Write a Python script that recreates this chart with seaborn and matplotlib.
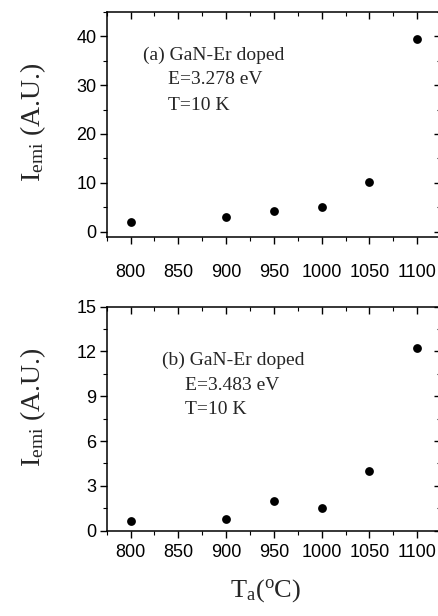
import matplotlib
matplotlib.use("Agg")
import matplotlib.pyplot as plt
import seaborn as sns
import numpy as np
import pandas as pd
from matplotlib.ticker import MultipleLocator

# Data
temps = [800, 900, 950, 1000, 1050, 1100]
iemi_a = [2.1, 3.0, 4.3, 5.1, 10.1, 39.5]
iemi_b = [0.68, 0.78, 2.0, 1.5, 4.0, 12.25]
xticks = [800, 850, 900, 950, 1000, 1050, 1100]
yticks_a = [0, 10, 20, 30, 40]
yticks_b = [0, 3, 6, 9, 12, 15]
ann_a = ["(a) GaN-Er doped", "E=3.278 eV", "T=10 K"]
ann_b = ["(b) GaN-Er doped", "E=3.483 eV", "T=10 K"]

sns.set_theme(style="white")
plt.rcParams['font.family'] = ['Liberation Sans', 'DejaVu Sans']
plt.rcParams['mathtext.fontset'] = 'custom'
plt.rcParams['mathtext.rm'] = 'Liberation Serif'

W, H = 439, 616
fig = plt.figure(figsize=(W / 100, H / 100), dpi=100)

def px_axes(left, top, right, bottom):
    return fig.add_axes([left / W, 1 - bottom / H, (right - left) / W, (bottom - top) / H])

ax1 = px_axes(106.7, 11.7, 441.1, 236.7)
ax2 = px_axes(106.7, 306.5, 441.1, 530.7)

df_a = pd.DataFrame({"T": temps, "I": iemi_a})
df_b = pd.DataFrame({"T": temps, "I": iemi_b})

for ax, df, yt, ylim, ymin, ann, xpad, ann_xy in [
    (ax1, df_a, yticks_a, (-1, 45), 5, ann_a, 14.5, (143, 55, 168)),
    (ax2, df_b, yticks_b, (0, 15), 1.5, ann_b, 4.5, (162, 360, 185)),
]:
    sns.scatterplot(data=df, x="T", y="I", ax=ax, color="black", s=40,
                    edgecolor="black", linewidth=0, zorder=3)
    ax.set_xlim(775, 1125)
    ax.set_ylim(*ylim)
    ax.set_xticks(xticks)
    ax.set_yticks(yt)
    ax.xaxis.set_minor_locator(MultipleLocator(25))
    ax.yaxis.set_minor_locator(MultipleLocator(ymin))
    ax.set_xlabel("")
    ax.set_ylabel("")
    for s in ax.spines.values():
        s.set_visible(True)
        s.set_color("black")
        s.set_linewidth(1.1)
    ax.tick_params(axis="x", which="both", bottom=True, top=True, direction="out",
                   color="black", labelsize=13, labelcolor="black")
    ax.tick_params(axis="x", which="major", length=5, width=1.0, pad=xpad)
    ax.tick_params(axis="x", which="minor", length=3, width=0.8)
    ax.tick_params(axis="y", which="both", left=True, right=True, direction="out",
                   color="black", labelsize=13, labelcolor="black", pad=2.5)
    ax.tick_params(axis="y", which="major", length=5, width=1.0)
    ax.tick_params(axis="y", which="minor", length=3, width=0.8)
    # top and right ticks inward
    for t in ax.xaxis.get_major_ticks() + ax.xaxis.get_minor_ticks():
        t.tick2line.set_marker(3)
    for t in ax.yaxis.get_major_ticks() + ax.yaxis.get_minor_ticks():
        t.tick2line.set_marker(0)
    ax.set_facecolor("white")
    x0, y0, x1 = ann_xy
    fs = 14
    ax.annotate(ann[0], xy=(x0 / W, 1 - y0 / H), xycoords="figure fraction",
                ha="left", va="center", fontsize=fs, family="Liberation Serif")
    ax.annotate(ann[1], xy=(x1 / W, 1 - (y0 + 25) / H), xycoords="figure fraction",
                ha="left", va="center", fontsize=fs, family="Liberation Serif")
    ax.annotate(ann[2], xy=(x1 / W, 1 - (y0 + 50) / H), xycoords="figure fraction",
                ha="left", va="center", fontsize=fs, family="Liberation Serif")

ylab = r"$\mathregular{I_{emi}}$ (A.U.)"
fig.text(33 / W, 1 - 122 / H, ylab, rotation=90, ha="center", va="center",
         fontsize=20, family="Liberation Serif")
fig.text(33 / W, 1 - 407 / H, ylab, rotation=90, ha="center", va="center",
         fontsize=20, family="Liberation Serif")
fig.text(266 / W, 1 - 591 / H, r"$\mathregular{T_a(^oC)}$", ha="center", va="center",
         fontsize=19, family="Liberation Serif")

fig.savefig("out.png", dpi=100, facecolor="white")
